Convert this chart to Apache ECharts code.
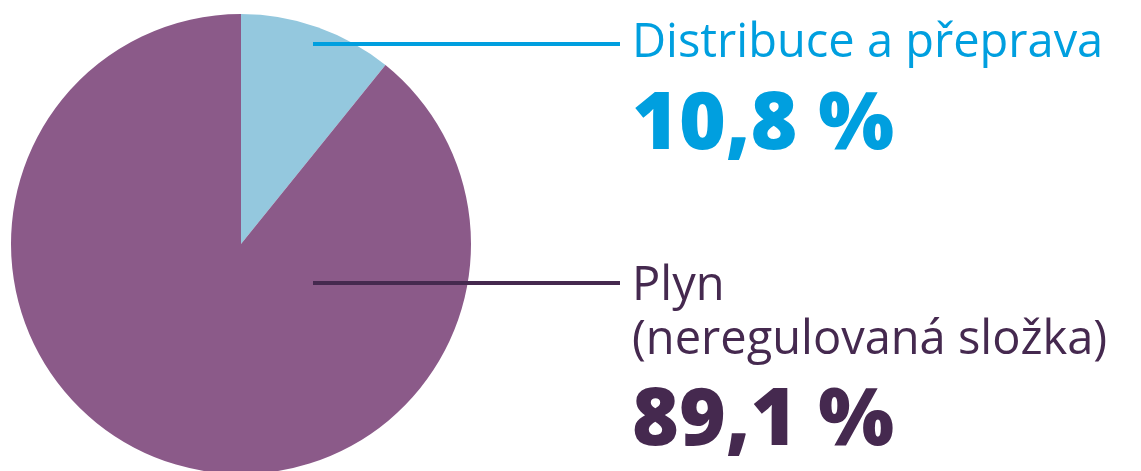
<!DOCTYPE html>
<html>
<head>
<meta charset="utf-8">
<script src="https://cdn.jsdelivr.net/npm/echarts@6/dist/echarts.min.js"></script>
<style>
  html, body { margin: 0; padding: 0; background: #fff; }
  #main { width: 1141px; height: 471px; }
</style>
</head>
<body>
<div id="main"></div>
<script>
// slices, clockwise from 12 o'clock
var names = ['Distribuce a přeprava', 'Plyn\n(neregulovaná složka)'];
var values = [10.8, 89.1];
var valueLabels = ['10,8 %', '89,1 %'];

var sliceColors = ['#94c8de', '#8b5a89'];
var textColors = ['#009fdf', '#45294f'];
// leader line y and label top for each slice
var labelPos = [
    { lineY: 44, top: 14 },
    { lineY: 283, top: 260 }
];

var FONT = 'Open Sans';

var myChart = echarts.init(document.getElementById('main'));

var pieBase = {
    type: 'pie',
    center: [241, 244],
    radius: 230,
    startAngle: 90,
    clockwise: true,
    emphasis: { disabled: true },
    silent: true
};

// slices
var slices = echarts.util.merge({
    z: 2,
    data: names.map(function (n, i) {
        return { name: n, value: values[i], itemStyle: { color: sliceColors[i] } };
    }),
    label: { show: false },
    labelLine: { show: false }
}, pieBase);

// transparent copy on top, only for labels + leader lines
var labels = echarts.util.merge({
    z: 10,
    data: names.map(function (n, i) {
        return {
            name: n,
            value: values[i],
            itemStyle: { color: 'rgba(0,0,0,0)' },
            labelLine: { lineStyle: { color: textColors[i], width: 4 } }
        };
    }),
    label: {
        show: true,
        overflow: 'none',
        fontFamily: FONT,
        formatter: function (p) {
            var i = p.dataIndex;
            var lines = p.name.split('\n').map(function (s) {
                return '{n' + i + '|' + s + '}';
            });
            return lines.join('\n') + '\n{v' + i + '|' + valueLabels[i] + '}';
        },
        rich: {
            n0: { color: textColors[0], fontSize: 47, fontWeight: 500, lineHeight: 60, fontFamily: FONT },
            v0: { color: textColors[0], fontSize: 80, fontWeight: 800, lineHeight: 104, fontFamily: FONT },
            n1: { color: textColors[1], fontSize: 47, fontWeight: 500, lineHeight: 54, fontFamily: FONT },
            v1: { color: textColors[1], fontSize: 80, fontWeight: 800, lineHeight: 108, fontFamily: FONT }
        }
    },
    labelLine: { show: true },
    labelLayout: function (params) {
        var p = labelPos[params.dataIndex];
        return {
            x: 632,
            y: p.top,
            align: 'left',
            verticalAlign: 'top',
            labelLinePoints: [[313, p.lineY], [620, p.lineY], [620, p.lineY]]
        };
    }
}, pieBase);

myChart.setOption({
    animation: false,
    series: [slices, labels]
});
</script>
</body>
</html>
